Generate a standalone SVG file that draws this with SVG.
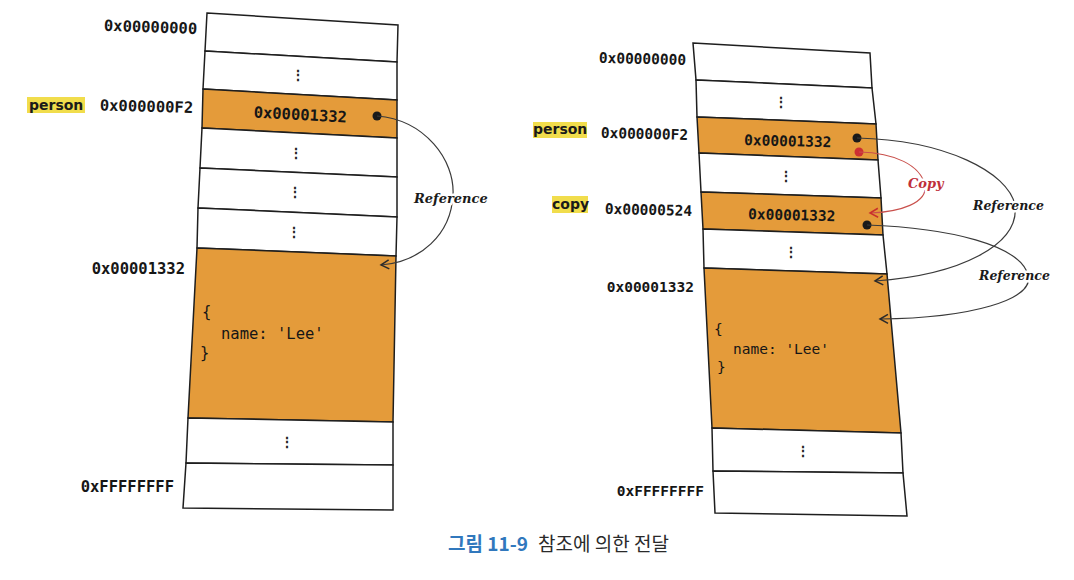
<svg xmlns="http://www.w3.org/2000/svg" width="1074" height="580" viewBox="0 0 1074 580">
<style>
.cell{stroke:#1e1e1e;stroke-width:1.5;stroke-linejoin:miter}
.w{fill:#ffffff}
.o{fill:#e49b3a}
.hex{font-family:"DejaVu Sans Mono","Liberation Mono",monospace;font-weight:bold;fill:#161616}
.code{font-family:"DejaVu Sans Mono","Liberation Mono",monospace;fill:#161616}
.var{font-family:"DejaVu Sans","Liberation Sans",sans-serif;font-weight:bold;font-size:14px;fill:#1a1a1a}
.hl{fill:#f1dd4c}
.vd{font-family:"DejaVu Sans Mono",monospace;font-weight:bold;font-size:14px;fill:#222;text-anchor:middle}
.lbl{font-family:"DejaVu Serif","Liberation Serif",serif;font-weight:bold;font-style:italic;fill:#1a1a1a;stroke:#ffffff;stroke-width:5;paint-order:stroke;stroke-linejoin:round}
.ref{fill:none;stroke:#3a3a3a;stroke-width:1.2}
.cp{fill:none;stroke:#c9504c;stroke-width:1.1}
</style>
<defs>
<marker id="arr" viewBox="-10 -6 12 12" markerWidth="12" markerHeight="12" refX="0" refY="0" orient="auto" markerUnits="userSpaceOnUse">
<path d="M-8,-4.5 L0,0 L-8,4.5" fill="none" stroke="#2a2a2a" stroke-width="1.5"/>
</marker>
<marker id="arrRed" viewBox="-10 -6 12 12" markerWidth="12" markerHeight="12" refX="0" refY="0" orient="auto" markerUnits="userSpaceOnUse">
<path d="M-8,-4.5 L0,0 L-8,4.5" fill="none" stroke="#c9302c" stroke-width="1.5"/>
</marker>
</defs>
<rect x="0" y="0" width="1074" height="580" fill="#ffffff"/>

<g id="memory-left">
<polygon class="cell w" points="207,13 398,25 397,62 205,51"/>
<polygon class="cell w" points="205,51 397,62 397,100 203,89"/>
<polygon class="cell o" points="203,89 397,100 397,138 202,128"/>
<polygon class="cell w" points="202,128 397,138 397,177 200,168"/>
<polygon class="cell w" points="200,168 397,177 397,217 198,208"/>
<polygon class="cell w" points="198,208 397,217 396,256 197,248"/>
<polygon class="cell o" points="197,248 396,256 393,422 188,418"/>
<polygon class="cell w" points="188,418 393,422 393,465 186,463"/>
<polygon class="cell w" points="186,463 393,465 393,510 183,508"/>
<text class="vd" x="298" y="80">⋮</text>
<text class="vd" x="296" y="158">⋮</text>
<text class="vd" x="295" y="197">⋮</text>
<text class="vd" x="294" y="237">⋮</text>
<text class="vd" x="287" y="447">⋮</text>
<text class="hex" font-size="15.5" x="300" y="120" text-anchor="middle" transform="rotate(3 300 120)">0x00001332</text>
<circle cx="377" cy="116" r="4.5" fill="#1a1a1a"/>
<text class="code" font-size="15.5" x="202" y="317">{</text>
<text class="code" font-size="15.5" x="221" y="339">name: 'Lee'</text>
<text class="code" font-size="15.5" x="200" y="358">}</text>
</g>

<g id="labels-left">
<text class="hex" font-size="15.5" x="197" y="34" text-anchor="end" transform="rotate(2 197 34)">0x00000000</text>
<rect class="hl" x="27" y="97" width="58" height="16"/>
<text class="var" x="29" y="110">person</text>
<text class="hex" font-size="15.5" x="193" y="113" text-anchor="end" transform="rotate(1.5 193 113)">0x000000F2</text>
<text class="hex" font-size="15.5" x="185" y="274" text-anchor="end">0x00001332</text>
<text class="hex" font-size="15.5" x="174" y="492" text-anchor="end">0xFFFFFFFF</text>
</g>

<g id="memory-right">
<polygon class="cell w" points="693,43 870,53 872,88 696,80"/>
<polygon class="cell w" points="696,80 872,88 876,124 697,117"/>
<polygon class="cell o" points="697,117 876,124 878,160 699,153"/>
<polygon class="cell w" points="699,153 878,160 881,198 701,192"/>
<polygon class="cell o" points="701,192 881,198 883,235 703,229"/>
<polygon class="cell w" points="703,229 883,235 887,274 704,268"/>
<polygon class="cell o" points="704,268 887,274 901,433 712,428"/>
<polygon class="cell w" points="712,428 901,433 903,473 713,471"/>
<polygon class="cell w" points="713,471 903,473 907,516 715,513"/>
<text class="vd" x="781" y="107">⋮</text>
<text class="vd" x="786" y="181">⋮</text>
<text class="vd" x="791" y="257">⋮</text>
<text class="vd" x="803" y="456">⋮</text>
<text class="hex" font-size="14.5" x="744" y="145" transform="rotate(1.5 744 145)">0x00001332</text>
<text class="hex" font-size="14.5" x="748" y="219" transform="rotate(1.5 748 219)">0x00001332</text>
<circle cx="857" cy="138" r="4.5" fill="#1a1a1a"/>
<circle cx="859" cy="152" r="4.5" fill="#cc2f33"/>
<circle cx="867" cy="225" r="4.5" fill="#1a1a1a"/>
<text class="code" font-size="14.5" x="714" y="334">{</text>
<text class="code" font-size="14.5" x="733" y="354">name: 'Lee'</text>
<text class="code" font-size="14.5" x="717" y="372">}</text>
</g>

<g id="labels-right">
<text class="hex" font-size="14.5" x="686" y="65" text-anchor="end" transform="rotate(1.5 686 65)">0x00000000</text>
<rect class="hl" x="533" y="122" width="54" height="16"/>
<text class="var" x="533" y="134">person</text>
<text class="hex" font-size="14.5" x="688" y="140" text-anchor="end" transform="rotate(1.5 688 140)">0x000000F2</text>
<rect class="hl" x="552" y="196" width="36" height="17"/>
<text class="var" x="552" y="209">copy</text>
<text class="hex" font-size="14.5" x="692" y="216" text-anchor="end" transform="rotate(1.5 692 216)">0x00000524</text>
<text class="hex" font-size="14.5" x="694" y="292" text-anchor="end">0x00001332</text>
<text class="hex" font-size="14.5" x="704" y="496" text-anchor="end">0xFFFFFFFF</text>
</g>

<g id="connectors">
<path class="ref" d="M377,116 C425,120 455,160 453,195 C451,235 420,262 381,265" marker-end="url(#arr)"/>
<text class="lbl" font-size="13" x="414" y="203">Reference</text>
<path class="ref" d="M857,138 C945,140 1008,172 1015,205 C1020,245 960,275 875,281" marker-end="url(#arr)"/>
<path class="ref" d="M867,225 C950,228 1020,245 1028,275 C1035,300 970,318 880,319" marker-end="url(#arr)"/>
<path class="cp" d="M859,152 C895,153 920,165 925,185 C928,203 900,212 870,213" marker-end="url(#arrRed)"/>
<text class="lbl" font-size="12.5" x="973" y="210">Reference</text>
<text class="lbl" font-size="12.5" x="979" y="280">Reference</text>
<text class="lbl" font-size="13" x="908" y="188" style="fill:#c0303a">Copy</text>
</g>

<g id="caption">
<text x="448" y="551" font-family="'Noto Sans CJK KR',sans-serif" font-size="19" font-weight="bold" fill="#3178bd">그림 11-9</text>
<text x="538" y="551" font-family="'Noto Sans CJK KR',sans-serif" font-size="19" fill="#2a2a2a">참조에 의한 전달</text>
</g>
</svg>
